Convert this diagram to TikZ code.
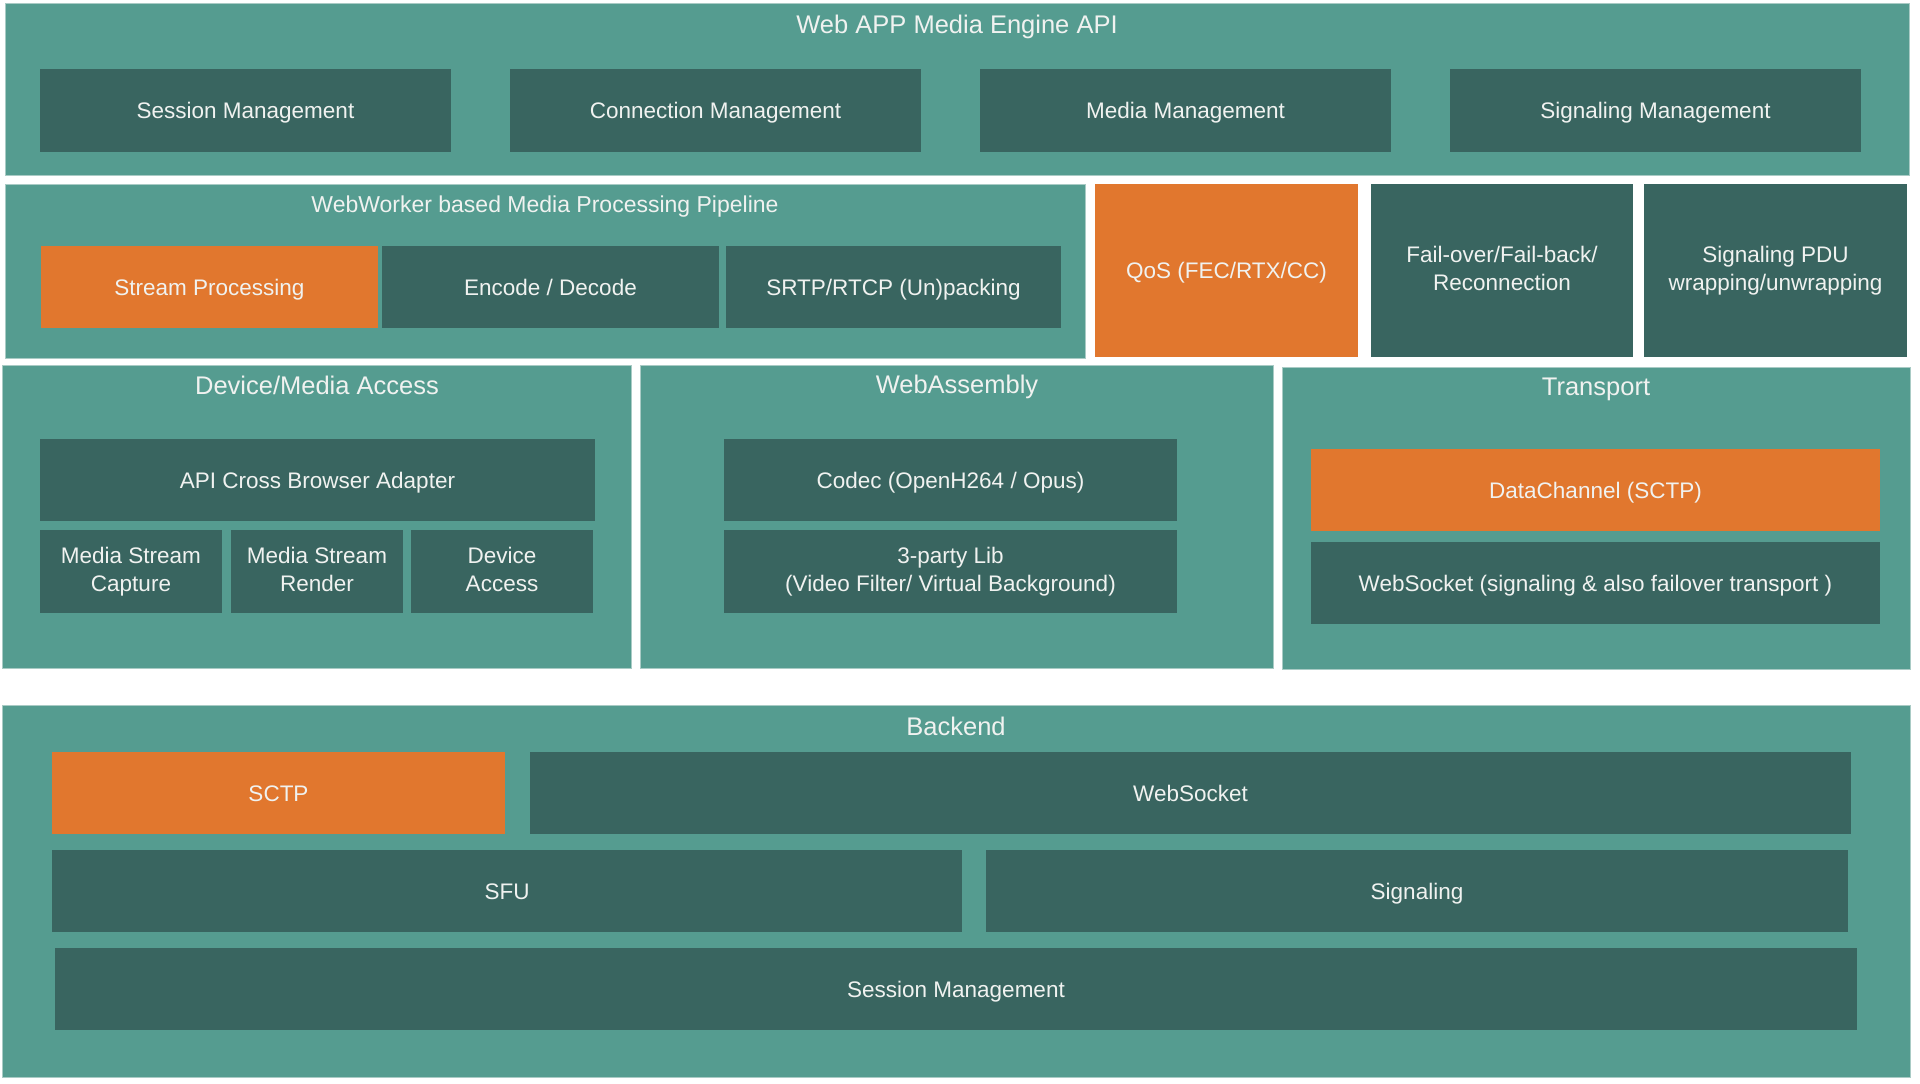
\documentclass[tikz,border=0pt]{standalone}
\usepackage{fontspec}
\setmainfont{Liberation Sans}
\usepackage{xcolor}
\usepackage{tikz}
\definecolor{panelfill}{HTML}{559C90}
\definecolor{panelline}{HTML}{A9CBC5}
\definecolor{boxfill}{HTML}{396560}
\definecolor{orfill}{HTML}{E1772E}
\definecolor{txt}{HTML}{F0F2F0}

\begin{document}
\begin{tikzpicture}[x=1pt,y=-1pt,
  panel/.style={draw=panelline,fill=panelfill,line width=1pt,anchor=north west,inner sep=0pt,outer sep=0pt},
  dbox/.style={fill=boxfill,anchor=north west,inner sep=0pt,outer sep=0pt,text=txt,align=center,font=\fontsize{22.5}{28.5}\selectfont},
  obox/.style={dbox,fill=orfill},
  one/.style={text height=16pt,text depth=0pt},
  two/.style={execute at end node=\vphantom{g}},
  sz/.style 2 args={minimum width=#1pt,minimum height=#2pt},
  ttl/.style={anchor=base,text=txt,inner sep=0pt,font=\fontsize{25.5}{30}\selectfont}]
\fill[white] (0,0) rectangle (1920,1084);
\useasboundingbox (0,0) rectangle (1920,1084);

\node[panel,sz={1904}{172}] (apipanel) at (5,3) {};
\node[ttl] (apititle) at (957,33) {Web APP Media Engine API};
\foreach \x/\n/\t in {40/sessapi/Session Management,510/connapi/Connection Management,980/mediaapi/Media Management,1450/sigapi/Signaling Management}{
	\node[dbox,one,sz={411}{83}] (\n) at (\x,69) {\t};
	}

\node[panel,sz={1080}{174}] (workerpanel) at (5,184) {};
\node[ttl,font=\fontsize{23}{28}\selectfont] (workertitle) at (545,212) {WebWorker based Media Processing Pipeline};
\node[obox,one,sz={337}{82}] (streamproc) at (41,246) {Stream Processing};
\node[dbox,one,sz={337}{82}] (encdec) at (382,246) {Encode / Decode};
\node[dbox,one,sz={335}{82}] (srtp) at (726,246) {SRTP/RTCP (Un)packing};
\node[obox,one,sz={263}{173}] (qos) at (1095,184) {QoS (FEC/RTX/CC)};
\node[dbox,two,sz={262}{173}] (failover) at (1371,184) {Fail-over/Fail-back/\\Reconnection};
\node[dbox,two,sz={263}{173}] (sigpdu) at (1644,184) {Signaling PDU\\wrapping/unwrapping};

\node[panel,sz={629}{303}] (devpanel) at (2,365) {};
\node[ttl] (devtitle) at (317,394) {Device/Media Access};
\node[dbox,one,sz={555}{82}] (adapter) at (40,439) {API Cross Browser Adapter};
\node[dbox,two,sz={182}{83}] (capture) at (40,530) {Media Stream\\Capture};
\node[dbox,two,sz={172}{83}] (render) at (231,530) {Media Stream\\Render};
\node[dbox,two,sz={182}{83}] (devaccess) at (411,530) {Device\\Access};

\node[panel,sz={633}{303}] (wasmpanel) at (640,365) {};
\node[ttl] (wasmtitle) at (957,393) {WebAssembly};
\node[dbox,one,sz={453}{82}] (codec) at (724,439) {Codec (OpenH264 / Opus)};
\node[dbox,two,sz={453}{83}] (thirdlib) at (724,530) {3-party Lib\\(Video Filter/ Virtual Background)};

\node[panel,sz={628}{302}] (transpanel) at (1282,367) {};
\node[ttl] (transtitle) at (1596,395) {Transport};
\node[obox,one,sz={569}{82}] (datachan) at (1311,449) {DataChannel (SCTP)};
\node[dbox,one,sz={569}{82}] (websock) at (1311,542) {WebSocket (signaling \& also failover transport )};

\node[panel,sz={1908}{372}] (backpanel) at (2,705) {};
\node[ttl] (backtitle) at (956,735) {Backend};
\node[obox,one,sz={453}{82}] (sctp) at (52,752) {SCTP};
\node[dbox,one,sz={1321}{82}] (backws) at (530,752) {WebSocket};
\node[dbox,one,sz={910}{82}] (sfu) at (52,850) {SFU};
\node[dbox,one,sz={862}{82}] (backsig) at (986,850) {Signaling};
\node[dbox,one,sz={1802}{82}] (backsess) at (55,948) {Session Management};
\end{tikzpicture}
\end{document}
